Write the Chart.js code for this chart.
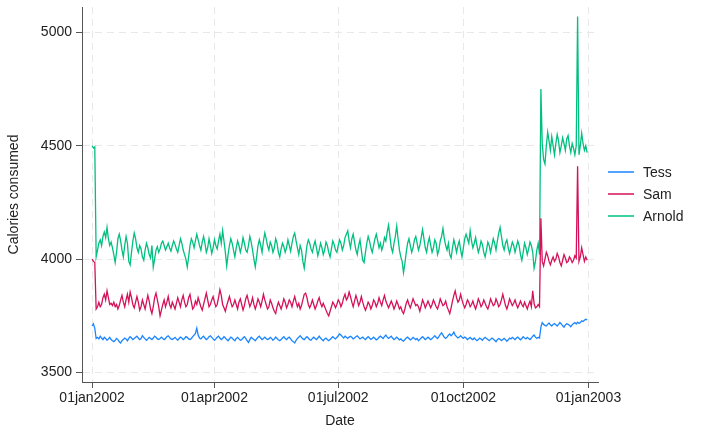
<!DOCTYPE html>
<html>
<head>
<meta charset="utf-8">
<script src="https://cdn.jsdelivr.net/npm/chart.js@4"></script>
<style>
  body { margin: 0; background: #fff; }
  #wrap { width: 703px; height: 430px; }
</style>
</head>
<body>
<div id="wrap"><canvas id="grafik" width="703" height="430"></canvas></div>
<script>
// daily calories, day 0 = 01jan2002
const tess = [
  3705,3715,3695,3650,3655,3648,3660,3652,3645,3655,
  3650,3642,3648,3655,3645,3640,3636,3642,3650,3645,
  3635,3630,3640,3645,3652,3648,3640,3650,3658,3652,
  3645,3650,3655,3660,3652,3645,3650,3662,3655,3648,
  3642,3648,3655,3650,3645,3652,3660,3655,3648,3645,
  3650,3656,3650,3645,3650,3658,3662,3655,3648,3645,
  3650,3655,3648,3642,3650,3656,3652,3645,3650,3658,
  3655,3648,3645,3650,3658,3665,3672,3695,3665,3652,
  3648,3655,3660,3652,3645,3650,3658,3662,3655,3648,
  3642,3648,3655,3660,3652,3645,3650,3658,3652,3645,
  3640,3648,3656,3652,3645,3640,3650,3655,3648,3642,
  3645,3652,3658,3650,3640,3632,3645,3655,3650,3645,
  3640,3648,3655,3660,3652,3645,3650,3656,3650,3645,
  3648,3655,3650,3642,3648,3656,3650,3644,3640,3645,
  3652,3658,3650,3645,3652,3656,3648,3640,3636,3630,
  3642,3650,3656,3662,3655,3648,3645,3652,3658,3652,
  3645,3642,3650,3656,3650,3645,3652,3660,3652,3645,
  3640,3648,3652,3645,3640,3645,3652,3658,3652,3648,
  3655,3662,3670,3665,3658,3652,3660,3655,3650,3656,
  3660,3655,3648,3652,3658,3662,3655,3648,3652,3656,
  3650,3645,3652,3658,3652,3646,3650,3656,3650,3644,
  3648,3655,3660,3655,3650,3658,3665,3656,3650,3655,
  3660,3652,3645,3650,3656,3650,3644,3648,3642,3638,
  3645,3652,3656,3650,3644,3648,3655,3650,3645,3650,
  3640,3646,3652,3658,3652,3645,3650,3656,3650,3645,
  3650,3656,3662,3655,3650,3658,3668,3675,3665,3655,
  3650,3656,3664,3670,3662,3668,3678,3665,3658,3652,
  3656,3662,3655,3650,3656,3652,3645,3650,3655,3648,
  3645,3652,3646,3640,3645,3652,3648,3642,3650,3655,
  3650,3645,3640,3646,3652,3648,3642,3636,3645,3650,
  3646,3640,3645,3650,3645,3638,3644,3652,3648,3655,
  3650,3645,3652,3656,3650,3644,3650,3658,3652,3648,
  3655,3650,3645,3652,3660,3665,3656,3650,3655,3652,
  3700,3720,3712,3708,3705,3712,3718,3710,3705,3712,
  3716,3710,3705,3712,3720,3714,3706,3700,3710,3715,
  3712,3708,3702,3710,3716,3720,3714,3722,3716,3720,
  3728,3725,3730,3735,3732
];
const sam = [
  4000,3990,3985,3780,3790,3810,3790,3800,3830,3845,
  3820,3860,3830,3800,3805,3795,3810,3790,3800,3780,
  3795,3820,3840,3810,3790,3820,3845,3810,3855,3830,
  3800,3785,3810,3835,3810,3775,3790,3820,3800,3780,
  3810,3840,3815,3780,3760,3790,3830,3850,3820,3790,
  3750,3775,3800,3820,3790,3810,3835,3800,3785,3810,
  3795,3780,3805,3830,3810,3790,3820,3840,3810,3790,
  3800,3830,3845,3810,3780,3790,3815,3800,3830,3810,
  3790,3775,3800,3825,3850,3820,3790,3800,3820,3835,
  3810,3790,3800,3830,3865,3840,3800,3785,3770,3795,
  3815,3835,3810,3790,3800,3820,3800,3780,3810,3825,
  3800,3775,3795,3825,3840,3815,3790,3805,3830,3800,
  3780,3800,3825,3810,3790,3815,3845,3820,3800,3780,
  3790,3820,3805,3785,3770,3760,3790,3810,3795,3780,
  3800,3825,3810,3785,3800,3820,3810,3790,3815,3835,
  3810,3790,3805,3780,3795,3820,3845,3850,3830,3800,
  3785,3800,3820,3800,3780,3795,3815,3830,3805,3790,
  3805,3790,3775,3760,3750,3770,3790,3810,3800,3785,
  3800,3820,3810,3790,3805,3830,3845,3820,3830,3855,
  3835,3810,3790,3815,3840,3820,3795,3810,3835,3810,
  3790,3775,3790,3810,3800,3780,3795,3820,3810,3790,
  3805,3830,3810,3795,3820,3840,3815,3800,3785,3800,
  3815,3800,3780,3795,3815,3800,3780,3790,3770,3760,
  3780,3805,3820,3800,3785,3805,3825,3810,3795,3800,
  3790,3770,3795,3820,3805,3785,3800,3815,3800,3785,
  3800,3820,3805,3790,3780,3800,3825,3810,3795,3800,
  3815,3790,3775,3760,3785,3815,3840,3860,3830,3810,
  3820,3845,3820,3800,3785,3800,3820,3810,3790,3800,
  3815,3795,3780,3800,3825,3810,3790,3800,3820,3805,
  3790,3780,3800,3825,3810,3795,3800,3825,3810,3790,
  3800,3820,3845,3820,3795,3780,3800,3825,3810,3795,
  3805,3820,3800,3785,3800,3815,3800,3790,3810,3795,
  3780,3800,3815,3790,3860,3805,3785,3790,3800,3790,
  4180,3990,3970,4000,4030,4015,3990,3975,3995,4010,
  3990,4000,4025,4010,3985,3970,3995,4020,4005,3985,
  3990,4010,4000,3985,3995,4015,4005,4410,3990,4010,
  4050,4020,3990,4010,3995
];
const arnold = [
  4500,4490,4495,4010,4040,4070,4085,4060,4100,4120,
  4095,4140,4090,4060,4075,4050,4020,3985,4030,4090,
  4110,4080,4040,4010,4060,4100,4070,3990,3975,4030,
  4080,4115,4090,4050,4030,4060,4045,4010,3995,4040,
  4070,4050,4020,4005,4060,3965,4000,4040,4055,4030,
  4045,4070,4080,4060,4040,4055,4070,4050,4035,4060,
  4080,4065,4045,4030,4060,4090,4070,4040,4020,4000,
  3965,4010,4060,4090,4075,4050,4080,4110,4085,4060,
  4040,4075,4100,4070,4030,4050,4090,4060,4025,4050,
  4085,4060,4045,4080,4110,4070,4125,4080,4030,3970,
  4020,4060,4090,4070,4040,4010,4050,4080,4060,4030,
  4055,4095,4070,4040,4030,4060,4100,4075,4040,4000,
  3965,4010,4060,4085,4060,4030,4080,4115,4090,4060,
  4040,4075,4060,4030,4050,4090,4070,4030,4010,4045,
  4070,4055,4030,4050,4085,4060,4035,4070,4100,4115,
  4080,4050,4020,4060,4040,3990,3960,4010,4060,4085,
  4070,4045,4030,4060,4080,4050,4015,4040,4070,4050,
  4020,4040,4075,4060,4030,4010,4045,4080,4065,4040,
  4030,4060,4085,4070,4040,4060,4095,4110,4125,4080,
  4050,4090,4110,4075,4040,4020,4060,4085,4040,3995,
  3985,4030,4070,4100,4080,4050,4030,4060,4090,4110,
  4080,4050,4070,4040,4060,4095,4080,4120,4150,4100,
  4050,4030,4070,4100,4145,4090,4040,4010,3990,3940,
  3980,4030,4070,4090,4060,4030,4050,4085,4100,4070,
  4040,4060,4095,4130,4090,4050,4030,4070,4095,4060,
  4030,4050,4085,4070,4020,4040,4080,4100,4135,4090,
  4060,4040,4070,4020,4005,4050,4085,4060,4030,4060,
  4080,4040,4010,4050,4090,4110,4090,4070,4125,4080,
  4050,4070,4095,4060,4030,4050,4080,4065,4030,4010,
  4040,4075,4060,4030,4060,4090,4070,4040,4080,4115,
  4140,4100,4060,4040,4070,4085,4050,4025,4050,4075,
  4060,4030,4055,4080,4060,4020,3995,4030,4070,4050,
  4020,4045,4075,4060,4030,3960,3990,4040,4070,4020,
  4750,4510,4440,4420,4500,4560,4520,4480,4540,4500,
  4460,4510,4550,4520,4470,4500,4535,4510,4480,4530,
  4545,4500,4470,4510,4490,4460,4500,5070,4460,4500,
  4555,4510,4480,4500,4470
];
const seriesNames = ['Tess', 'Sam', 'Arnold'];
const seriesColors = ['#1a85ff', '#d41159', '#00bf7f'];
const tickDays = [0, 90, 181, 273, 365];
const tickLabels = ['01jan2002', '01apr2002', '01jul2002', '01oct2002', '01jan2003'];
const yTicks = [3500, 4000, 4500, 5000];

const fontFam = "'Liberation Sans', Arial, sans-serif";
const gridColor = '#e8e8e8';
const axisColor = '#555';

const legendPlugin = {
  id: 'stataLegend',
  afterDraw(chart) {
    const ctx = chart.ctx;
    ctx.save();
    ctx.font = '14px ' + fontFam;
    ctx.textBaseline = 'middle';
    seriesNames.forEach((nm, i) => {
      const y = 172 + i * 22;
      ctx.strokeStyle = seriesColors[i];
      ctx.lineWidth = 1.5;
      ctx.beginPath();
      ctx.moveTo(608, y);
      ctx.lineTo(634, y);
      ctx.stroke();
      ctx.fillStyle = '#222';
      ctx.fillText(nm, 643, y + 1);
    });
    ctx.restore();
  }
};

const toPts = arr => arr.map((v, i) => ({ x: i, y: v }));

new Chart(document.getElementById('grafik').getContext('2d'), {
  type: 'line',
  data: {
    datasets: [tess, sam, arnold].map((arr, i) => ({
      label: seriesNames[i],
      data: toPts(arr),
      borderColor: seriesColors[i],
      borderWidth: 1.3,
      pointRadius: 0,
      tension: 0,
      fill: false
    }))
  },
  options: {
    responsive: false,
    animation: false,
    layout: { padding: { top: 7, right: 105, left: 0, bottom: 0 } },
    plugins: { legend: { display: false }, tooltip: { enabled: false } },
    scales: {
      x: {
        type: 'linear',
        min: -7.4,
        max: 372,
        afterBuildTicks: s => { s.ticks = tickDays.map(v => ({ value: v })); },
        afterFit: s => { s.height = 48; },
        ticks: {
          callback: (v) => tickLabels[tickDays.indexOf(v)],
          font: { family: fontFam, size: 14 },
          color: '#222',
          padding: 2,
          maxRotation: 0,
          autoSkip: false
        },
        grid: { color: gridColor, tickColor: axisColor, tickLength: 6, lineWidth: 1 },
        border: { color: axisColor, width: 1, dash: [7, 5] },
        title: { display: true, text: 'Date', font: { family: fontFam, size: 14 }, color: '#222', padding: { top: 0, bottom: 0 } }
      },
      y: {
        min: 3458,
        max: 5112,
        afterBuildTicks: s => { s.ticks = yTicks.map(v => ({ value: v })); },
        afterFit: s => { s.width = 82; s.paddingTop = 0; s.paddingBottom = 0; },
        ticks: {
          callback: v => String(v),
          font: { family: fontFam, size: 14 },
          color: '#222',
          padding: 4
        },
        grid: { color: gridColor, tickColor: axisColor, tickLength: 6, lineWidth: 1 },
        border: { color: axisColor, width: 1, dash: [7, 5] },
        title: { display: true, text: 'Calories consumed', font: { family: fontFam, size: 14 }, color: '#222', padding: { top: 6, bottom: 0 } }
      }
    }
  },
  plugins: [legendPlugin]
});
</script>
</body>
</html>
